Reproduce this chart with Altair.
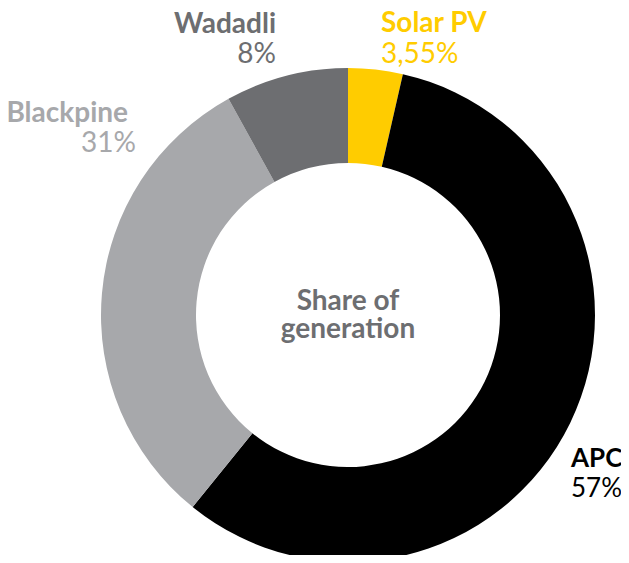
import altair as alt
import pandas as pd

# Data
categories = ["Solar PV", "APC", "Blackpine", "Wadadli"]
shares = [3.55, 57, 31, 8]
pct_labels = ["3,55%", "57%", "31%", "8%"]
colors = ["#FFCC00", "#000000", "#A7A8AB", "#6D6E71"]
center_lines = ["Share of", "generation"]

df = pd.DataFrame({
    "source": categories,
    "share": shares,
    "order": list(range(len(categories))),
    "pct": pct_labels,
})

FONT = "Lato"
CX, CY = 340, 307  # donut centre inside the chart (layout)

donut = alt.Chart(df).mark_arc(radius=247, radius2=152, stroke=None).encode(
    theta=alt.Theta("share:Q", stack=True),
    order=alt.Order("order:Q"),
    color=alt.Color("source:N", scale=alt.Scale(domain=categories, range=colors), legend=None),
    x=alt.value(CX),
    y=alt.value(CY),
)

# label layout: (x, align, name baseline y, pct x, pct baseline y, font size)
layout = {
    "Solar PV": (373, "left", 24, 373, 55, 28),
    "APC": (563, "left", 459, 563, 489, 26),
    "Blackpine": (120, "right", 114, 128, 144, 28),
    "Wadadli": (268, "right", 25, 268, 55, 28),
}

layers = [donut]
for cat, col, pct in zip(categories, colors, pct_labels):
    x, align, y, px, py, fs = layout[cat]
    sub = df[df.source == cat]
    layers.append(
        alt.Chart(sub).mark_text(
            font=FONT, fontSize=fs, fontWeight="bold", align=align,
            baseline="alphabetic", color=col,
        ).encode(text="source:N", x=alt.value(x), y=alt.value(y))
    )
    layers.append(
        alt.Chart(sub).mark_text(
            font=FONT, fontSize=fs, fontWeight="normal", align=align,
            baseline="alphabetic", color=col,
        ).encode(text="pct:N", x=alt.value(px), y=alt.value(py))
    )

center_y = [302, 330]
for line, yy in zip(center_lines, center_y):
    cdf = pd.DataFrame({"line": [line]})
    layers.append(
        alt.Chart(cdf).mark_text(
            font=FONT, fontSize=28, fontWeight="bold", align="center",
            baseline="alphabetic", color="#6D6E71",
        ).encode(text="line:N", x=alt.value(CX), y=alt.value(yy))
    )

chart = alt.layer(*layers).properties(
    width=613, height=547, autosize="none", padding=0
).configure_view(stroke=None)

chart.save("out.html", embed_options={"renderer": "svg", "actions": False})
